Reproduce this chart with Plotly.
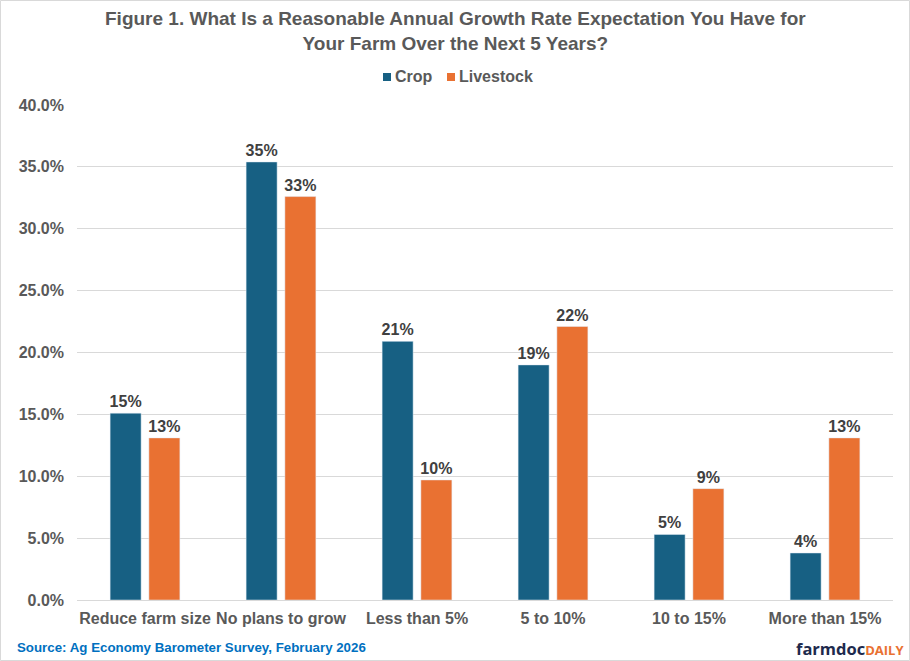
import plotly.graph_objects as go

categories = ["Reduce farm size", "No plans to grow", "Less than 5%", "5 to 10%", "10 to 15%", "More than 15%"]
crop = [15.1, 35.4, 20.9, 19.0, 5.3, 3.8]
livestock = [13.1, 32.6, 9.7, 22.1, 9.0, 13.1]
series_names = ["Crop", "Livestock"]
y_ticks = [0, 5, 10, 15, 20, 25, 30, 35, 40]
y_tick_labels = [f"{v:.1f}%" for v in y_ticks]

FONT = "Liberation Sans, Arial, sans-serif"
CROP_C = "#176083"
LIVE_C = "#E97132"

# plot area in pixels: left 77, right 893, top 105, bottom 600
L, R, T, B = 77, 893, 105, 600
PW, PH = R - L, B - T
def px(x): return (x - L) / PW
def py(y): return (B - y) / PH

fig = go.Figure()
for nm, vals, col in [(series_names[0], crop, CROP_C), (series_names[1], livestock, LIVE_C)]:
    fig.add_trace(go.Bar(name=nm, x=categories, y=vals, marker_color=col, showlegend=False,
                         texttemplate="<b>%{y:.0f}%</b>", textposition="outside", constraintext="none",
                         textfont=dict(size=16, color="#404040", family=FONT), cliponaxis=False))

fig.update_layout(
    width=910, height=661,
    margin=dict(l=L, r=910 - R, t=T, b=661 - B, autoexpand=False),
    paper_bgcolor="white", plot_bgcolor="white",
    font=dict(family=FONT, color="#595959"),
    barmode="group", bargap=0.43, bargroupgap=0.2,
    xaxis=dict(showline=True, linecolor="#d9d9d9", linewidth=1, ticks="", automargin=False,
               tickfont=dict(size=16, color="#595959", family=FONT), ticklabelstandoff=4),
    yaxis=dict(range=[0, 40], tickvals=y_ticks, ticktext=[f"<b>{t}</b>" for t in y_tick_labels],
               showgrid=True, gridcolor="#d9d9d9", gridwidth=1, zeroline=False, automargin=False,
               tickfont=dict(size=16, color="#595959", family=FONT), ticklabelstandoff=12),
    showlegend=False,
)
fig.update_xaxes(ticktext=[f"<b>{c}</b>" for c in categories], tickvals=categories)

# legend (drawn manually for compact spacing)
for sx, tx, nm, col in [(383, 395, series_names[0], CROP_C), (447, 459, series_names[1], LIVE_C)]:
    fig.add_shape(type="rect", xref="paper", yref="paper", x0=px(sx), x1=px(sx + 8), y0=py(81), y1=py(73),
                  line=dict(width=0), fillcolor=col)
    fig.add_annotation(text=f"<b>{nm}</b>", xref="paper", yref="paper", x=px(tx - 2), y=py(76.5),
                       xanchor="left", yanchor="middle", showarrow=False,
                       font=dict(size=16, color="#595959", family=FONT))

fig.add_annotation(text="<b>Figure 1. What Is a Reasonable Annual Growth Rate Expectation You Have for<br>Your Farm Over the Next 5 Years?</b>",
                   xref="paper", yref="paper", x=px(455), y=py(31), xanchor="center", yanchor="middle",
                   showarrow=False, align="center",
                   font=dict(size=19, color="#595959", family=FONT))
fig.add_annotation(text="<b>Source: Ag Economy Barometer Survey, February 2026</b>",
                   xref="paper", yref="paper", x=px(15), y=py(647), xanchor="left", yanchor="middle",
                   showarrow=False, font=dict(size=13.3, color="#0070C0", family=FONT))
fig.add_annotation(text="<b><span style='color:#1e2a4d;font-size:16.5px'>farmdoc</span><span style='color:#E97132;font-size:13px'>DAILY</span></b>",
                   xref="paper", yref="paper", x=px(906), y=py(648), xanchor="right", yanchor="middle",
                   showarrow=False, font=dict(size=16.5, family="Open Sans, Lato, sans-serif"))
fig.add_shape(type="rect", xref="paper", yref="paper", x0=px(0.5), x1=px(909.5), y0=py(660.5), y1=py(0.5),
              line=dict(color="#d9d9d9", width=1), fillcolor="rgba(0,0,0,0)", layer="below")

fig.write_html("out.html", config={"displayModeBar": False},
               post_script="document.body.style.margin='0';document.body.style.padding='0';document.body.style.overflow='hidden';")
